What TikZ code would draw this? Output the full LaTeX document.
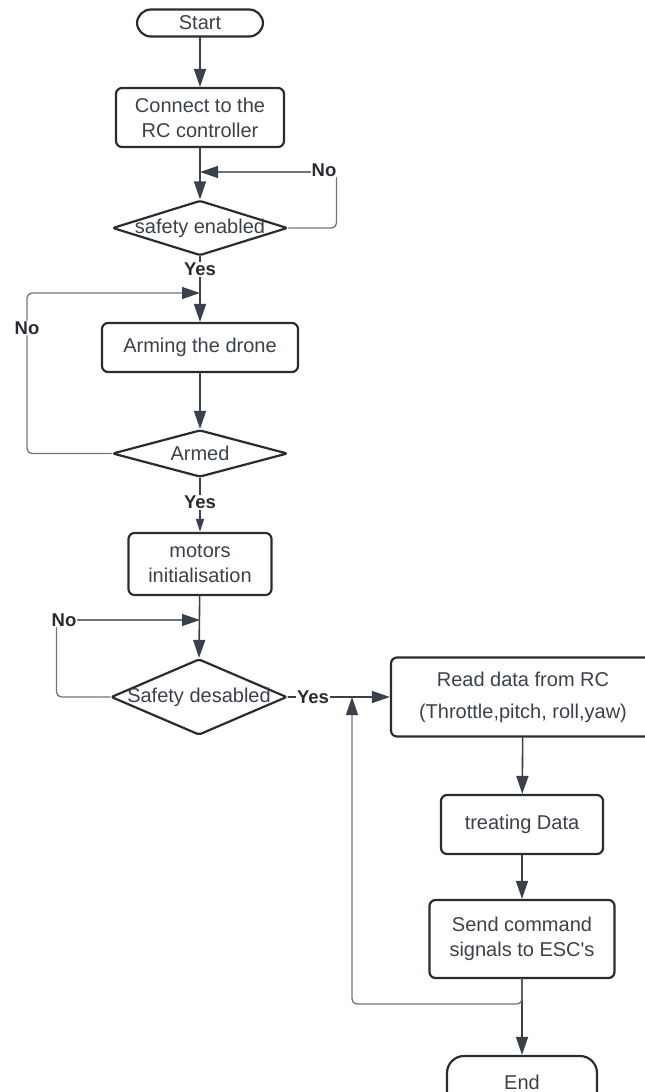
\documentclass[tikz,border=0pt]{standalone}
\usepackage{fontspec}
\setmainfont{Liberation Sans}
\usepackage{pgf,tikz}
\usetikzlibrary{shapes.geometric}
\usetikzlibrary{arrows.meta}

\definecolor{ink}{RGB}{58,65,74}
\definecolor{rim}{RGB}{40,44,51}
\definecolor{loopgray}{RGB}{112,117,124}

\tikzset{
  process/.style={draw=rim,line width=2.2pt,rounded corners=6pt,text=ink,align=center,
    font=\fontsize{20}{25}\selectfont,inner sep=0pt},
  terminal/.style={process,rounded corners=14pt},
  dtext/.style={text=ink,font=\fontsize{20}{25}\selectfont,inner sep=0pt},
  decision/.style={draw=rim,line width=2.2pt,shape=diamond,inner sep=0pt,rounded corners=2pt,
    label={[dtext]center:#1}},
  lbl/.style={text=rim,font=\fontsize{18.5}{20}\selectfont\bfseries,inner sep=1pt,fill=white},
  flow/.style={draw=ink,line width=1.6pt},
  back/.style={draw=loopgray,line width=1.3pt,rounded corners=5pt},
}

\begin{document}
\begin{tikzpicture}[line cap=round,line join=round,>={Triangle[length=18pt,width=12pt,color=ink]},x=1pt,y=-1pt]
\useasboundingbox (0,0) rectangle (645,1092);
% main column
\node [terminal,minimum width=126pt,minimum height=27pt] (start) at (200,23) {Start};
\node [process,minimum width=168pt,minimum height=59pt] (connect) at (200,117.5) {Connect to the\\RC controller};
\node [decision=safety enabled,minimum width=175pt,minimum height=55pt] (senable) at (200,228) {};
\node [process,minimum width=196pt,minimum height=49pt] (arming) at (200,347.5) {Arming the drone};
\node [decision=Armed,minimum width=175pt,minimum height=47pt] (armed) at (200,453.5) {};
\node [process,minimum width=143pt,minimum height=62pt] (motors) at (200,564) {motors\\initialisation};
\node [decision=Safety desabled,minimum width=176pt,minimum height=76pt] (sdisable) at (199,697) {};
% right column
\node [process,minimum width=264pt,minimum height=79pt] (readrc) at (523,697) {Read data from RC\\[7pt](Throttle,pitch, roll,yaw)};
\node [process,minimum width=162pt,minimum height=59pt] (treat) at (522,824.5) {treating Data};
\node [process,minimum width=185pt,minimum height=78pt] (send) at (522,939) {Send command\\signals to ESC\textquotesingle s};
\node [terminal,minimum width=150pt,minimum height=52pt,rounded corners=17pt] (end) at (522,1082) {End};
% loop labels and joints
\node [lbl] (no1) at (324,170) {No};
\node [lbl] (no2) at (27,328) {No};
\node [lbl] (no3) at (64,620) {No};
\coordinate (j1) at (200,172);
\coordinate (j2) at (200,293);
\coordinate (j3) at (200,620);
\coordinate (j4) at (352,697);
\coordinate (j5) at (352,1004);
% forward arrows
\draw [flow,->] (start) -- (connect);
\draw [flow,->] (connect) -- (senable.north);
\draw [flow,->] (senable.south) -- node[lbl,pos=0.2] {Yes} (arming);
\draw [flow,->] (arming) -- (armed.north);
\draw [flow,-{Triangle[length=13pt,width=8pt,color=ink]}] (armed.south) -- node[lbl,pos=0.45] {Yes} (motors);
\draw [flow,->] (motors) -- (sdisable.north);
\draw [flow,->] (sdisable.east) -- node[lbl,pos=0.245] {Yes} (readrc);
\draw [flow,->] (readrc) -- (treat);
\draw [flow,->] (treat) -- (send);
\draw [flow,->] (send) -- (end);
% back loops
\draw [back] (senable.east) -| ([xshift=-1pt]no1.south east);
\draw [back,->] (no1.west |- j1) -- (j1);
\draw [back,->] (armed.west) -| (no2) |- (j2);
\draw [back] (sdisable.west) -| ([xshift=6pt]no3.south west);
\draw [back,->] (no3.east) -- (j3);
\draw [back,->] (send.south) |- (j5) -- (j4);
\end{tikzpicture}
\end{document}
